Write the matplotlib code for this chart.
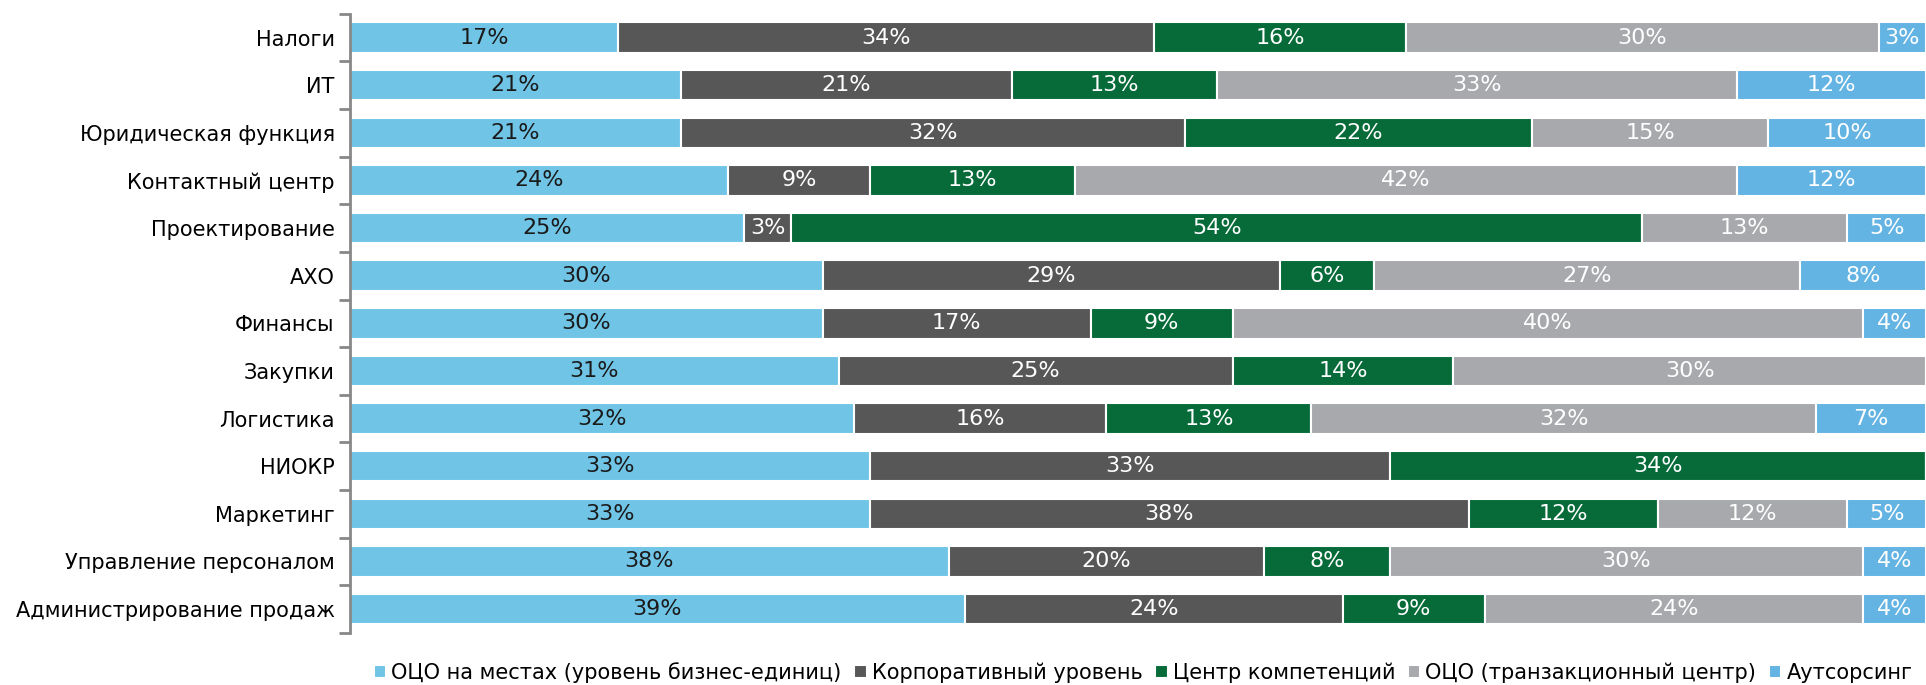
import numpy as np
import matplotlib.pyplot as plt

categories = ["Налоги", "ИТ", "Юридическая функция", "Контактный центр",
              "Проектирование", "АХО", "Финансы", "Закупки", "Логистика",
              "НИОКР", "Маркетинг", "Управление персоналом",
              "Администрирование продаж"]

series = ["ОЦО на местах (уровень бизнес-единиц)", "Корпоративный уровень",
          "Центр компетенций", "ОЦО (транзакционный центр)", "Аутсорсинг"]

local_ssc = [17, 21, 21, 24, 25, 30, 30, 31, 32, 33, 33, 38, 39]
corporate = [34, 21, 32, 9, 3, 29, 17, 25, 16, 33, 38, 20, 24]
competence = [16, 13, 22, 13, 54, 6, 9, 14, 13, 34, 12, 8, 9]
transact_ssc = [30, 33, 15, 42, 13, 27, 40, 30, 32, 0, 12, 30, 24]
outsourcing = [3, 12, 10, 12, 5, 8, 4, 0, 7, 0, 5, 4, 4]

colors = ["#70c5e6", "#575757", "#066b38", "#a7a9ac", "#63b3e3"]
text_colors = ["#1a1a1a", "white", "white", "white", "white"]

plt.rcParams['font.family'] = ['DejaVu Sans']

fig = plt.figure(figsize=(19.26, 6.85), dpi=100)
ax = fig.add_axes([0.1817, 0.076, 0.8183, 0.904])

y = np.arange(len(categories))
left = np.zeros(len(categories))
data = [local_ssc, corporate, competence, transact_ssc, outsourcing]

for vals, name, col, tcol in zip(data, series, colors, text_colors):
    vals = np.array(vals, dtype=float)
    ax.barh(y, vals, left=left, height=0.64, color=col,
            edgecolor="white", linewidth=1.5, label=name)
    for yi, v, l in zip(y, vals, left):
        if v > 0:
            ax.text(l + v / 2, yi, f"{int(v)}%", ha="center", va="center",
                    color=tcol, fontsize=16)
    left += vals

ax.set_xlim(0, 100)
ax.set_ylim(len(categories) - 0.5, -0.5)
ax.set_yticks(y)
ax.set_yticklabels(categories, fontsize=15)
ax.tick_params(axis="y", which="major", length=0, pad=11)
ax.set_yticks(np.arange(-0.5, len(categories), 1), minor=True)
ax.tick_params(axis="y", which="minor", length=8, width=2, color="#888888")
ax.set_xticks([])
for s in ["top", "right", "bottom"]:
    ax.spines[s].set_visible(False)
ax.spines["left"].set_color("#888888")
ax.spines["left"].set_linewidth(2)

handles, labels = ax.get_legend_handles_labels()
fig.legend(handles, labels, loc="center", bbox_to_anchor=(0.5935, 0.018),
           ncol=5, frameon=False, fontsize=15, handlelength=0.6,
           handleheight=0.6, handletextpad=0.25, columnspacing=0.6,
           borderaxespad=0, borderpad=0)

fig.savefig("out.png", dpi=100)
